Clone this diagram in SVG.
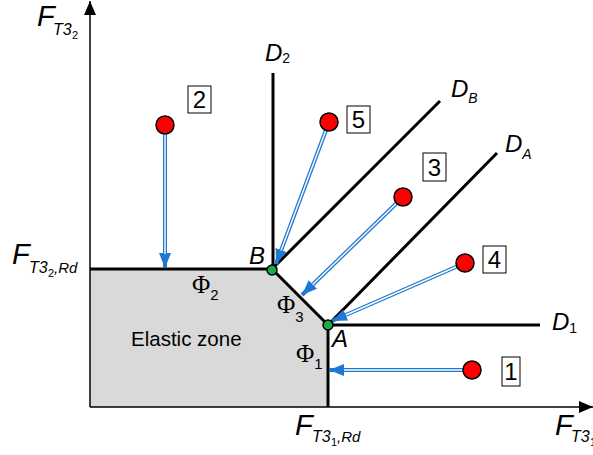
<svg xmlns="http://www.w3.org/2000/svg" width="593" height="455" viewBox="0 0 593 455">
<style>
.ax{stroke:#000;stroke-width:1.5;fill:none}
.thick{stroke:#000;stroke-width:3;fill:none;stroke-linecap:butt}
.ab{stroke:#1f78d1;stroke-width:4;fill:none}
.aw{stroke:#fff;stroke-width:1.4;fill:none}
.dot{fill:#ff0000;stroke:#000;stroke-width:1.5}
.gdot{fill:#1faa4a;stroke:#000;stroke-width:1.5}
.box{fill:#fff;stroke:#000;stroke-width:1}
.t{font-family:"Liberation Sans",Arial,sans-serif;fill:#000}
.i{font-style:italic}
.phi{font-family:"Liberation Serif","Times New Roman",serif;font-size:25px}
</style>
<defs>
<marker id="ah" markerUnits="userSpaceOnUse" markerWidth="15" markerHeight="12" refX="15" refY="6" orient="auto">
<path d="M0,0 L15,6 L0,12 z" fill="#1f78d1"/>
</marker>
<marker id="axh" markerUnits="userSpaceOnUse" markerWidth="14" markerHeight="12" refX="14" refY="6" orient="auto">
<path d="M0,0 L14,6 L0,12 z" fill="#000"/>
</marker>
</defs>

<g id="elastic-zone">
<polygon points="90,269 272,269 328,325 328,407 90,407" fill="#d9d9d9"/>
<text class="t" x="131" y="346" font-size="20.5">Elastic zone</text>
</g>

<g id="axes">
<line class="ax" x1="90" y1="407" x2="90" y2="1" marker-end="url(#axh)"/>
<line class="ax" x1="90" y1="407" x2="593" y2="407" marker-end="url(#axh)"/>
</g>

<g id="boundary">
<line class="thick" x1="90" y1="269" x2="272" y2="269"/>
<line class="thick" x1="272" y1="269" x2="328" y2="325"/>
<line class="thick" x1="328" y1="325" x2="328" y2="407"/>
</g>

<g id="D-lines">
<line class="thick" x1="273" y1="269" x2="273" y2="73"/>
<line class="thick" x1="272" y1="269" x2="440" y2="101"/>
<line class="thick" x1="328" y1="325" x2="497" y2="153"/>
<line class="thick" x1="328" y1="325" x2="540" y2="325"/>
</g>

<g id="connectors">
<g id="arrow-2"><line class="ab" x1="165" y1="125" x2="165" y2="268" marker-end="url(#ah)"/><line class="aw" x1="165" y1="125" x2="165" y2="254"/></g>
<g id="arrow-5"><line class="ab" x1="329" y1="122" x2="276" y2="264" marker-end="url(#ah)"/><line class="aw" x1="329" y1="122" x2="281" y2="250.5"/></g>
<g id="arrow-3"><line class="ab" x1="403" y1="197" x2="302" y2="295" marker-end="url(#ah)"/><line class="aw" x1="403" y1="197" x2="312.5" y2="284.8"/></g>
<g id="arrow-4"><line class="ab" x1="465" y1="263" x2="332" y2="321" marker-end="url(#ah)"/><line class="aw" x1="465" y1="263" x2="345.8" y2="315"/></g>
<g id="arrow-1"><line class="ab" x1="472" y1="370" x2="329" y2="370" marker-end="url(#ah)"/><line class="aw" x1="472" y1="370" x2="344" y2="370"/></g>
</g>

<g id="point-B"><circle class="gdot" cx="272" cy="270" r="5"/><text class="t i" x="249" y="264" font-size="24">B</text></g>
<g id="point-A"><circle class="gdot" cx="328" cy="325" r="5"/><text class="t i" x="332" y="347" font-size="24">A</text></g>

<g id="load-2"><circle class="dot" cx="165" cy="125" r="9"/><rect class="box" x="188" y="86" width="23" height="27"/><text class="t" x="199.5" y="108" font-size="24" text-anchor="middle">2</text></g>
<g id="load-5"><circle class="dot" cx="329" cy="122" r="9"/><rect class="box" x="347" y="106" width="23" height="27"/><text class="t" x="358.5" y="128" font-size="24" text-anchor="middle">5</text></g>
<g id="load-3"><circle class="dot" cx="403" cy="197" r="9"/><rect class="box" x="423" y="153" width="23" height="28"/><text class="t" x="434.5" y="176" font-size="24" text-anchor="middle">3</text></g>
<g id="load-4"><circle class="dot" cx="465" cy="263" r="9"/><rect class="box" x="483" y="246" width="23" height="27"/><text class="t" x="494.5" y="268" font-size="24" text-anchor="middle">4</text></g>
<g id="load-1"><circle class="dot" cx="472" cy="370" r="9"/><rect class="box" x="502" y="357" width="18" height="29"/><text class="t" x="511" y="380" font-size="24" text-anchor="middle">1</text></g>

<g id="phi-labels">
<text class="phi" x="192" y="293">Φ<tspan class="t" font-size="15" dy="7">2</tspan></text>
<text class="phi" x="277" y="313">Φ<tspan class="t" font-size="15" dy="9">3</tspan></text>
<text class="phi" x="296" y="362">Φ<tspan class="t" font-size="15" dy="7">1</tspan></text>
</g>

<g id="D-labels" class="t i">
<text x="265" y="61" font-size="24">D<tspan font-style="normal" font-size="14" dy="2">2</tspan></text>
<text x="451" y="97" font-size="24">D<tspan font-size="14" dy="6">B</tspan></text>
<text x="505" y="152" font-size="24">D<tspan font-size="14" dy="7">A</tspan></text>
<text x="552" y="330" font-size="24">D<tspan font-style="normal" font-size="14" dy="3">1</tspan></text>
</g>

<g id="axis-labels" class="t">
<text x="37" y="26" font-size="29" font-style="italic">F</text>
<text x="53" y="35" font-size="16" font-style="italic">T3</text>
<text x="72" y="39" font-size="11">2</text>

<text x="12" y="264" font-size="29" font-style="italic">F</text>
<text x="29" y="273" font-size="16" font-style="italic">T3</text>
<text x="48" y="277" font-size="11">2</text>
<text x="54" y="273" font-size="15" font-style="italic">,Rd</text>

<text x="295" y="435" font-size="29" font-style="italic">F</text>
<text x="312" y="442" font-size="16" font-style="italic">T3</text>
<text x="331" y="446" font-size="11">1</text>
<text x="337" y="442" font-size="15" font-style="italic">,Rd</text>

<text x="555" y="435" font-size="29" font-style="italic">F</text>
<text x="571" y="442" font-size="16" font-style="italic">T3</text>
<text x="590" y="446" font-size="11">1</text>
</g>
</svg>
